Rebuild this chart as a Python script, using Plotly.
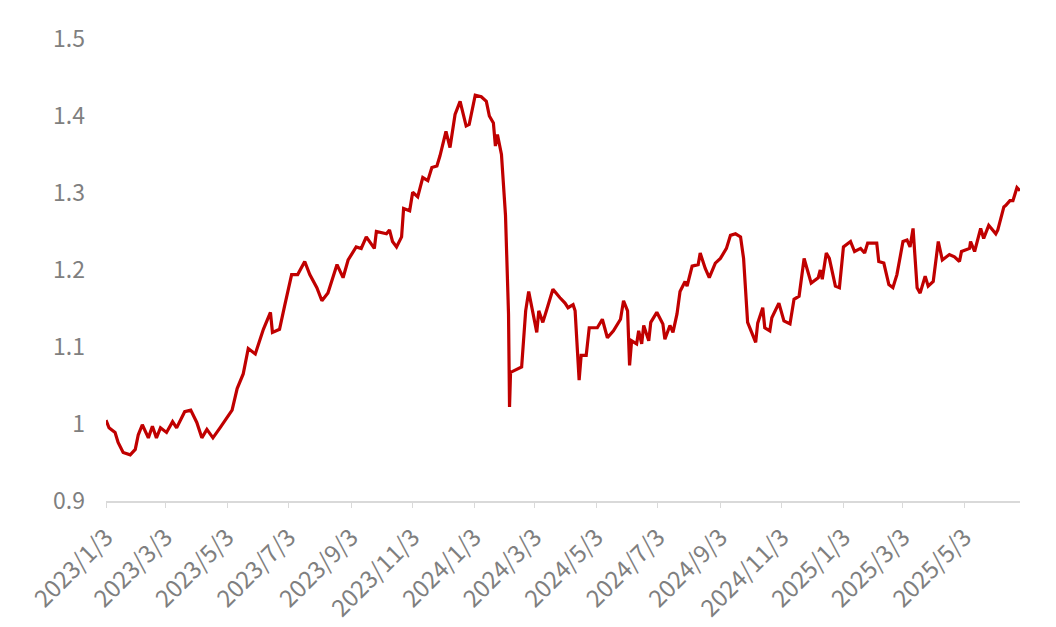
import plotly.graph_objects as go

# values
dates = [
    "2023-01-03", "2023-01-06", "2023-01-12", "2023-01-15", "2023-01-20", "2023-01-27",
    "2023-02-01", "2023-02-04", "2023-02-08", "2023-02-14", "2023-02-18", "2023-02-22",
    "2023-02-26", "2023-03-04", "2023-03-10", "2023-03-14", "2023-03-22", "2023-03-28",
    "2023-04-03", "2023-04-08", "2023-04-13", "2023-04-19", "2023-04-26", "2023-05-01",
    "2023-05-08", "2023-05-13", "2023-05-19", "2023-05-24", "2023-05-31", "2023-06-08",
    "2023-06-15", "2023-06-17", "2023-06-24", "2023-06-29", "2023-07-06", "2023-07-12",
    "2023-07-19", "2023-07-24", "2023-07-31", "2023-08-05", "2023-08-11", "2023-08-20",
    "2023-08-26", "2023-08-31", "2023-09-08", "2023-09-13", "2023-09-18", "2023-09-26",
    "2023-09-28", "2023-10-08", "2023-10-11", "2023-10-14", "2023-10-18", "2023-10-23",
    "2023-10-25", "2023-10-31", "2023-11-03", "2023-11-08", "2023-11-13", "2023-11-18",
    "2023-11-22", "2023-11-27", "2023-11-30", "2023-12-06", "2023-12-10", "2023-12-15",
    "2023-12-20", "2023-12-26", "2023-12-29", "2024-01-04", "2024-01-10", "2024-01-15",
    "2024-01-18", "2024-01-22", "2024-01-24", "2024-01-26", "2024-01-30", "2024-02-03",
    "2024-02-06", "2024-02-07", "2024-02-08", "2024-02-19", "2024-02-23", "2024-02-26",
    "2024-03-01", "2024-03-05", "2024-03-07", "2024-03-11", "2024-03-15", "2024-03-21",
    "2024-03-28", "2024-04-02", "2024-04-05", "2024-04-10", "2024-04-12", "2024-04-16",
    "2024-04-18", "2024-04-23", "2024-04-26", "2024-05-04", "2024-05-09", "2024-05-14",
    "2024-05-20", "2024-05-27", "2024-05-30", "2024-06-03", "2024-06-05", "2024-06-07",
    "2024-06-12", "2024-06-14", "2024-06-17", "2024-06-19", "2024-06-24", "2024-06-26",
    "2024-07-02", "2024-07-08", "2024-07-10", "2024-07-15", "2024-07-18", "2024-07-22",
    "2024-07-25", "2024-07-30", "2024-08-01", "2024-08-06", "2024-08-12", "2024-08-14",
    "2024-08-19", "2024-08-23", "2024-08-29", "2024-09-03", "2024-09-09", "2024-09-13",
    "2024-09-18", "2024-09-23", "2024-09-26", "2024-09-30", "2024-10-04", "2024-10-08",
    "2024-10-10", "2024-10-15", "2024-10-17", "2024-10-22", "2024-10-24", "2024-10-31",
    "2024-11-05", "2024-11-11", "2024-11-15", "2024-11-20", "2024-11-25", "2024-11-28",
    "2024-12-02", "2024-12-09", "2024-12-11", "2024-12-13", "2024-12-17", "2024-12-20",
    "2024-12-26", "2024-12-30", "2025-01-03", "2025-01-10", "2025-01-14", "2025-01-20",
    "2025-01-24", "2025-01-27", "2025-02-05", "2025-02-07", "2025-02-12", "2025-02-17",
    "2025-02-21", "2025-02-25", "2025-03-03", "2025-03-07", "2025-03-10", "2025-03-13",
    "2025-03-17", "2025-03-20", "2025-03-25", "2025-03-28", "2025-04-02", "2025-04-07",
    "2025-04-11", "2025-04-18", "2025-04-23", "2025-04-28", "2025-04-30", "2025-05-08",
    "2025-05-09", "2025-05-13", "2025-05-19", "2025-05-22", "2025-05-27", "2025-06-03",
    "2025-06-05", "2025-06-11", "2025-06-13", "2025-06-17", "2025-06-20", "2025-06-24",
    "2025-06-27",
]

values = [
    1.005, 0.995, 0.989, 0.976, 0.963, 0.960,
    0.967, 0.986, 0.999, 0.982, 0.997, 0.982,
    0.995, 0.989, 1.003, 0.995, 1.016, 1.018,
    1.002, 0.982, 0.993, 0.982, 0.995, 1.005,
    1.018, 1.046, 1.065, 1.098, 1.091, 1.123,
    1.145, 1.119, 1.123, 1.153, 1.194, 1.194,
    1.211, 1.194, 1.177, 1.160, 1.170, 1.207,
    1.190, 1.213, 1.230, 1.228, 1.243, 1.228,
    1.250, 1.247, 1.252, 1.237, 1.230, 1.243,
    1.280, 1.277, 1.301, 1.295, 1.320, 1.316,
    1.333, 1.335, 1.348, 1.380, 1.359, 1.402,
    1.419, 1.387, 1.389, 1.427, 1.425, 1.419,
    1.400, 1.391, 1.361, 1.376, 1.350, 1.271,
    1.143, 1.022, 1.067, 1.074, 1.147, 1.172,
    1.143, 1.119, 1.147, 1.132, 1.149, 1.175,
    1.164, 1.157, 1.151, 1.155, 1.147, 1.057,
    1.089, 1.089, 1.125, 1.125, 1.136, 1.112,
    1.121, 1.136, 1.160, 1.147, 1.076, 1.108,
    1.104, 1.121, 1.104, 1.128, 1.108, 1.132,
    1.145, 1.130, 1.110, 1.128, 1.119, 1.143,
    1.172, 1.185, 1.179, 1.205, 1.207, 1.222,
    1.202, 1.190, 1.209, 1.215, 1.228, 1.245,
    1.247, 1.243, 1.215, 1.132, 1.119, 1.106,
    1.131, 1.151, 1.125, 1.121, 1.138, 1.157,
    1.134, 1.130, 1.162, 1.166, 1.215, 1.200,
    1.183, 1.190, 1.200, 1.188, 1.222, 1.215,
    1.179, 1.177, 1.230, 1.237, 1.224, 1.228,
    1.222, 1.235, 1.235, 1.211, 1.209, 1.181,
    1.177, 1.194, 1.237, 1.239, 1.230, 1.254,
    1.177, 1.170, 1.192, 1.179, 1.185, 1.237,
    1.213, 1.220, 1.217, 1.211, 1.224, 1.228,
    1.237, 1.224, 1.254, 1.241, 1.258, 1.247,
    1.252, 1.282, 1.284, 1.290, 1.290, 1.307,
    1.303,
]

x_ticks = ["2023-01-03", "2023-03-03", "2023-05-03", "2023-07-03", "2023-09-03",
           "2023-11-03", "2024-01-03", "2024-03-03", "2024-05-03", "2024-07-03",
           "2024-09-03", "2024-11-03", "2025-01-03", "2025-03-03", "2025-05-03"]
x_labels = ["2023/1/3", "2023/3/3", "2023/5/3", "2023/7/3", "2023/9/3",
            "2023/11/3", "2024/1/3", "2024/3/3", "2024/5/3", "2024/7/3",
            "2024/9/3", "2024/11/3", "2025/1/3", "2025/3/3", "2025/5/3"]
y_ticks = [0.9, 1.0, 1.1, 1.2, 1.3, 1.4, 1.5]
y_labels = ["0.9", "1", "1.1", "1.2", "1.3", "1.4", "1.5"]

fig = go.Figure()
fig.add_trace(
    go.Scatter(
        x=dates,
        y=values,
        mode="lines",
        line=dict(color="#C00000", width=3.2),
        showlegend=False,
    )
)

# page body adds 8px, so margins are trimmed to land the plot where the reference has it
fig.update_layout(
    width=1056,
    height=627,
    paper_bgcolor="white",
    plot_bgcolor="white",
    margin=dict(l=98, r=44, t=27, b=133),
    font=dict(family="Noto Sans CJK SC", size=22, color="#7f7f7f"),
)

fig.update_xaxes(
    type="date",
    range=["2023-01-03", "2025-06-27"],
    tickvals=x_ticks,
    ticktext=x_labels,
    tickangle=-45,
    showgrid=False,
    zeroline=False,
    showline=True,
    linecolor="#d9d9d9",
    linewidth=1.5,
    ticks="outside",
    ticklen=5,
    tickcolor="#d9d9d9",
    ticklabelstandoff=6,
    tickfont=dict(size=24, color="#7f7f7f"),
)

fig.update_yaxes(
    range=[0.9, 1.5],
    tickvals=y_ticks,
    ticktext=y_labels,
    showgrid=False,
    zeroline=False,
    showline=False,
    ticks="",
    ticklabelstandoff=20,
    tickfont=dict(size=23, color="#7f7f7f"),
)

fig.write_html("out.html")
